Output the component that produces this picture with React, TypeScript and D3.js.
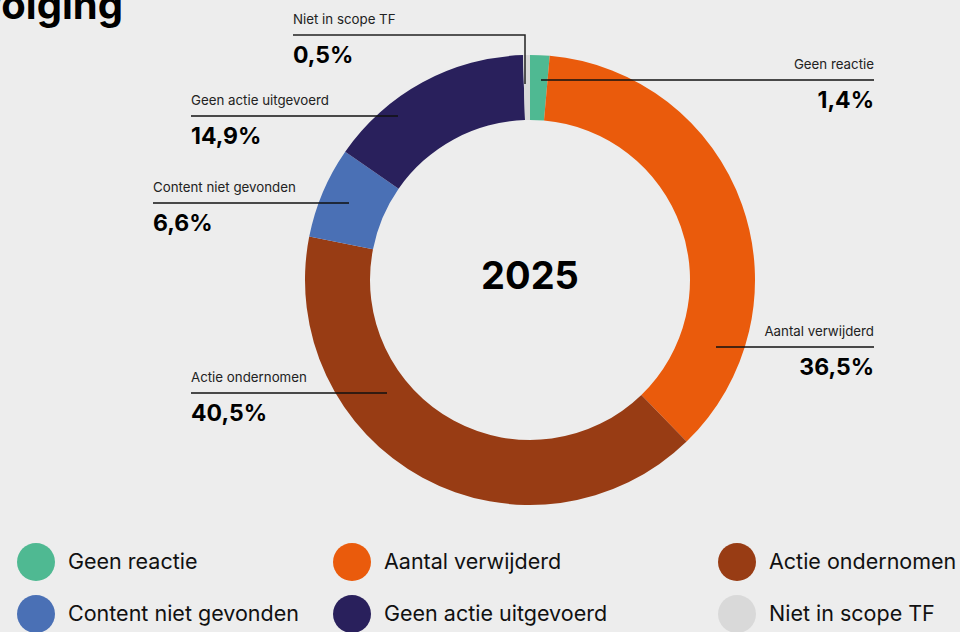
import React from "react";
import * as d3 from "d3";

const categories = ["Geen reactie", "Aantal verwijderd", "Actie ondernomen", "Content niet gevonden", "Geen actie uitgevoerd", "Niet in scope TF"];
const values = [1.4, 36.5, 40.5, 6.6, 14.9, 0.5];
const valueLabels = ["1,4%", "36,5%", "40,5%", "6,6%", "14,9%", "0,5%"];
const colors = ["#4fb992", "#ea5b0c", "#983c14", "#4a70b5", "#29205c", "#d9d9d9"];
const centerLabel = "2025";
const title = "Opvolging";

// annotation layout (label anchor x, baseline of label, line end x, align)
const labelLayout = [
  { x: 874, y: 69, end: 541, anchor: "end" },
  { x: 874, y: 336, end: 716, anchor: "end" },
  { x: 191, y: 382, end: 387, anchor: "start" },
  { x: 153, y: 192, end: 349, anchor: "start" },
  { x: 191, y: 105, end: 398, anchor: "start" },
  { x: 293, y: 24, end: 525, anchor: "start", drop: 84 },
];

const legendCols = [36, 352, 737];
const legendRows = [562, 614];

export default function App() {
  const W = 960, H = 632;
  const cx = 530, cy = 280, rOuter = 225, rInner = 160;
  const pie = d3.pie<number>().sort(null).value((d) => d)(values);
  const arc = d3.arc<d3.PieArcDatum<number>>().innerRadius(rInner).outerRadius(rOuter);
  const font = "Inter, 'Noto Sans', sans-serif";

  return (
    <svg width={W} height={H} style={{ position: "fixed", left: 0, top: 0, background: "#ededed" }} fontFamily={font}>
      <rect x={0} y={0} width={W} height={H} fill="#ededed" />
      <text x={123} y={19} textAnchor="end" fontSize={40} fontWeight={700} fill="#000">{title}</text>
      <g transform={`translate(${cx},${cy})`}>
        {pie.map((p, i) => (
          <path key={i} d={arc(p) || ""} fill={colors[i]} />
        ))}
      </g>
      <text x={cx} y={289} textAnchor="middle" fontSize={38} fontWeight={700} fill="#000">{centerLabel}</text>
      {labelLayout.map((l, i) => {
        const lineY = l.y + 11;
        const x1 = l.x;
        const x2 = l.end;
        return (
          <g key={i}>
            <text x={l.x} y={l.y} textAnchor={l.anchor as any} fontSize={13.3} fill="#222">{categories[i]}</text>
            {l.drop ? (
              <polyline points={`${x1},${lineY} ${x2},${lineY} ${x2},${l.drop}`} fill="none" stroke="#222" strokeWidth={1.5} />
            ) : (
              <line x1={x1} x2={x2} y1={lineY} y2={lineY} stroke="#111" strokeWidth={1.5} />
            )}
            <text x={l.x} y={l.y + 39} textAnchor={l.anchor as any} fontSize={23} fontWeight={700} fill="#000">{valueLabels[i]}</text>
          </g>
        );
      })}
      {categories.map((c, i) => {
        const col = i % 3, row = Math.floor(i / 3);
        const x = legendCols[col], y = legendRows[row];
        return (
          <g key={c}>
            <circle cx={x} cy={y} r={19} fill={colors[i]} />
            <text x={x + 32} y={y + 7} fontSize={21.5} fill="#111">{c}</text>
          </g>
        );
      })}
    </svg>
  );
}
